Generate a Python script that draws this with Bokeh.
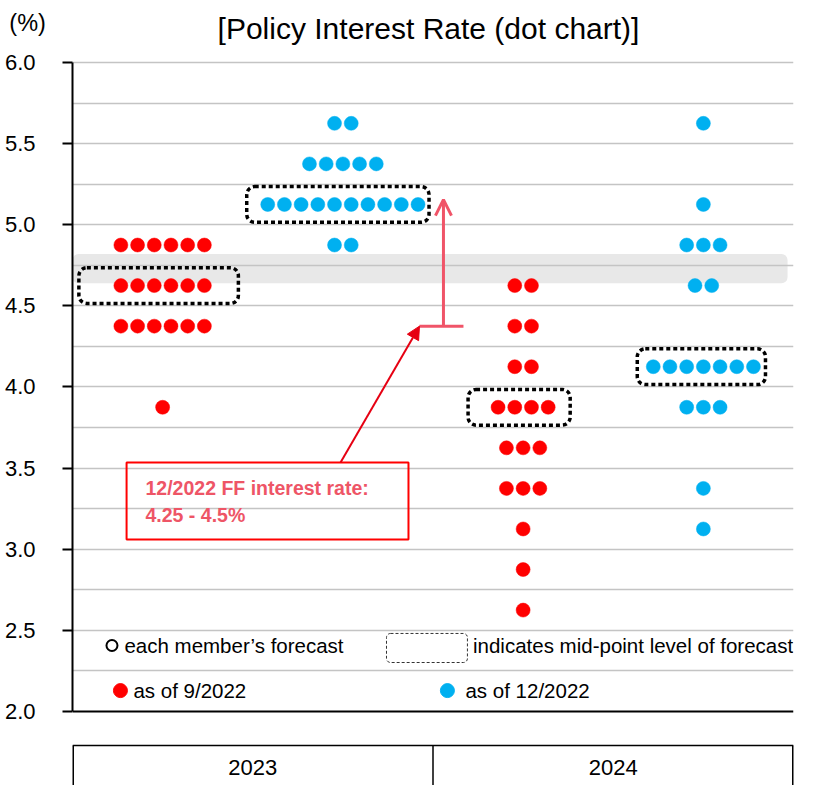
import numpy as np
from bokeh.plotting import figure
from bokeh.models import (Range1d, FixedTicker, Span, BoxAnnotation, Label, Arrow,
                          NormalHead, OpenHead, ColumnDataSource, CustomJSTickFormatter)
from bokeh.embed import file_html
from bokeh.resources import INLINE
from bokeh.core.properties import value

# ---------------- data ----------------
title_text = "[Policy Interest Rate (dot chart)]"
unit_text = "(%)"
years = ["2023", "2024"]
vintages = ["as of 9/2022", "as of 12/2022"]
vintage_colors = ["#ff0000", "#00b0f0"]

# each member's forecast: rate level -> number of members
levels_2023_sep = [4.875, 4.625, 4.375, 3.875]
counts_2023_sep = [6, 6, 6, 1]
levels_2023_dec = [5.625, 5.375, 5.125, 4.875]
counts_2023_dec = [2, 5, 10, 2]
levels_2024_sep = [4.625, 4.375, 4.125, 3.875, 3.625, 3.375, 3.125, 2.875, 2.625]
counts_2024_sep = [2, 2, 2, 4, 3, 3, 1, 1, 1]
levels_2024_dec = [5.625, 5.125, 4.875, 4.625, 4.125, 3.875, 3.375, 3.125]
counts_2024_dec = [1, 1, 3, 2, 7, 3, 1, 1]

y_ticks = [2.0, 2.5, 3.0, 3.5, 4.0, 4.5, 5.0, 5.5, 6.0]
ff_low, ff_high = 4.25, 4.5
band_low, band_high = 4.64, 4.82
legend_texts = ["each member\u2019s forecast", "indicates mid-point level of forecast"]
note_lines = ["12/2022 FF interest rate:", f"{ff_low} - {ff_high}%"]

# ---------------- layout / style ----------------
FONT = "Liberation Sans"
PX_X = 180.25          # px per x unit
PX_Y = 162.25          # px per y unit
DX = 16.7 / PX_X       # dot spacing
Y_TOP = 6.382
Y_BOTTOM = 1.544
TABLE_TOP = 1.79
TABLE_TEXT_Y = 1.655
PAD_L = [42, 21, 30, 16]   # px, hand-drawn mid-point boxes
PAD_R = [34, 11, 22, 12]
BOX_HALF_H = 0.11
PINK = "#f05468"
RED_ARROW = "#e60012"
NOTE_COLOR = "#ee5566"

p = figure(width=817, height=785, x_range=Range1d(0, 4), y_range=Range1d(Y_BOTTOM, Y_TOP),
           output_backend="svg", toolbar_location=None, x_axis_location=None,
           title_location=None,
           min_border_left=72, min_border_right=24, min_border_top=0, min_border_bottom=0)
p.outline_line_color = None
p.background_fill_color = "white"
p.border_fill_color = "white"

# title (inside the frame, above the 6.0 line)
p.add_layout(Label(x=1.975, y=6.21, text=title_text, text_font=FONT, text_font_size="30px",
                   text_align="center", text_baseline="middle", text_color="black"))

# y axis
ax = p.yaxis[0]
ax.ticker = FixedTicker(ticks=y_ticks)
ax.bounds = (y_ticks[0], y_ticks[-1])
ax.formatter = CustomJSTickFormatter(code="return tick.toFixed(1);")
ax.major_label_text_font = FONT
ax.major_label_text_font_size = "22px"
ax.major_label_text_color = "black"
ax.major_label_standoff = 27
ax.axis_line_color = "black"
ax.axis_line_width = 2
ax.major_tick_line_color = "black"
ax.major_tick_line_width = 2
ax.major_tick_out = 10
ax.major_tick_in = 0
ax.minor_tick_line_color = None

if "axis_label_align" in type(ax).properties():
    # unit label at the top end of the axis (two empty lines push it below the edge)
    ax.axis_label = "\n\n" + unit_text
    ax.axis_label_align = "end"
    ax.axis_label_orientation = "horizontal"
    ax.axis_label_standoff = -44
    ax.axis_label_text_font = FONT
    ax.axis_label_text_font_size = "23.5px"
    ax.axis_label_text_font_style = "normal"
    ax.axis_label_text_color = "black"
    ax.axis_label_text_line_height = 0.85
else:
    p.add_layout(Label(x=0.02, y=6.25, text=unit_text, text_font=FONT, text_font_size="22px",
                       text_baseline="middle", text_color="black"))

# grid
grid_levels = list(np.arange(y_ticks[0] + 0.25, y_ticks[-1] + 0.01, 0.25))
p.ygrid.ticker = FixedTicker(ticks=grid_levels)
p.ygrid.grid_line_color = "#c4c4c4"
p.ygrid.grid_line_width = 1.5
p.xgrid.visible = False

# shaded band
p.add_layout(BoxAnnotation(left=0, right=3.967, bottom=band_low, top=band_high,
                           fill_color="#e8e8e8", fill_alpha=1, line_color=None,
                           border_radius=6, level="image"))

# bottom axis line at 2.0
p.add_layout(Span(location=y_ticks[0], dimension="width", line_color="black", line_width=2))

# dots
groups = [
    (0, 0, levels_2023_sep, counts_2023_sep),
    (0, 1, levels_2023_dec, counts_2023_dec),
    (1, 0, levels_2024_sep, counts_2024_sep),
    (1, 1, levels_2024_dec, counts_2024_dec),
]
xs, ys, cs = [], [], []
medians = []
for gi, (yi, vi, lv, ct) in enumerate(groups):
    c = 2 * yi + vi + 0.5
    for lev, n in zip(lv, ct):
        for k in range(n):
            xs.append(c + (k - (n - 1) / 2) * DX)
            ys.append(lev)
            cs.append(vintage_colors[vi])
    med = float(np.median(np.repeat(lv, ct)))
    medians.append(med)
    nmed = ct[lv.index(med)]
    half = (nmed - 1) / 2 * DX
    p.add_layout(BoxAnnotation(left=c - half - PAD_L[gi] / PX_X, right=c + half + PAD_R[gi] / PX_X,
                               bottom=med - BOX_HALF_H, top=med + BOX_HALF_H,
                               fill_alpha=0, line_color="black", line_alpha=1, line_width=3.5,
                               line_dash="4 3", border_radius=8))

src = ColumnDataSource(dict(x=xs, y=ys, c=cs))
p.scatter("x", "y", source=src, size=14, fill_color="c", line_color="c", line_width=0.5)

# note box and arrows
ff_mid = (ff_low + ff_high) / 2
note_l, note_r, note_t, note_b = 0.30, 1.864, 3.535, 3.06
p.add_layout(BoxAnnotation(left=note_l, right=note_r, bottom=note_b, top=note_t,
                           fill_alpha=0, line_color="#ff0000", line_alpha=1, line_width=2))
p.add_layout(Label(x=0.405, y=3.38, text=note_lines[0], text_font=FONT, text_font_size="19.5px",
                   text_font_style="bold", text_color=NOTE_COLOR, text_baseline="middle"))
p.add_layout(Label(x=0.405, y=3.213, text=note_lines[1], text_font=FONT, text_font_size="19.5px",
                   text_font_style="bold", text_color=NOTE_COLOR, text_baseline="middle"))

brk_l, brk_r, brk_x = 1.925, 2.169, 2.058
p.add_layout(Arrow(end=NormalHead(size=13, fill_color=RED_ARROW, line_color=RED_ARROW),
                   x_start=1.487, y_start=note_t, x_end=brk_l, y_end=ff_mid,
                   line_color=RED_ARROW, line_width=2))
p.segment(x0=[brk_l], y0=[ff_mid], x1=[brk_r], y1=[ff_mid], line_color=PINK, line_width=3)
p.add_layout(Arrow(end=OpenHead(size=16, line_color=PINK, line_width=3),
                   x_start=brk_x, y_start=ff_mid, x_end=brk_x, y_end=medians[1] + 0.03,
                   line_color=PINK, line_width=3))

# legend (custom)
row1, row2 = 2.407, 2.129
LEG_FS = "20.5px"
p.scatter(x=[0.219], y=[row1], size=11, fill_color="white", line_color="black", line_width=2)
p.add_layout(Label(x=0.288, y=row1, text=legend_texts[0], text_font=FONT, text_font_size=LEG_FS,
                   text_baseline="middle", text_color="black"))
p.add_layout(BoxAnnotation(left=1.742, right=2.191, bottom=2.302, top=2.481, fill_alpha=0,
                           line_color="#333333", line_alpha=1, line_width=1, line_dash="3 2",
                           border_radius=4))
p.add_layout(Label(x=2.222, y=row1, text=legend_texts[1], text_font=FONT, text_font_size=LEG_FS,
                   text_baseline="middle", text_color="black"))
leg_dot_x = [0.266, 2.080]
leg_txt_x = [0.338, 2.18]
p.scatter(x=leg_dot_x, y=[row2, row2], size=14, fill_color=vintage_colors, line_color=vintage_colors)
for i in range(2):
    p.add_layout(Label(x=leg_txt_x[i], y=row2, text=vintages[i], text_font=FONT, text_font_size=LEG_FS,
                       text_baseline="middle", text_color="black"))

# category table below
bx = list(np.arange(len(years) + 1) * 2.0)
p.segment(x0=bx[1:-1], y0=[TABLE_TOP] * (len(bx) - 2), x1=bx[1:-1], y1=[Y_BOTTOM] * (len(bx) - 2),
          line_color="black", line_width=1.5)
p.segment(x0=[bx[0], bx[-1]], y0=[TABLE_TOP] * 2, x1=[bx[0], bx[-1]], y1=[Y_BOTTOM] * 2,
          line_color="black", line_width=3)
p.segment(x0=[bx[0]], y0=[TABLE_TOP], x1=[bx[-1]], y1=[TABLE_TOP], line_color="black", line_width=1.5)
p.text(x=[2 * i + 1.0 for i in range(len(years))], y=[TABLE_TEXT_Y] * len(years), text=years,
       text_font=value(FONT), text_font_size="22px", text_align="center", text_baseline="middle",
       text_color="black")

open("out.html", "w").write(file_html(p, INLINE))
